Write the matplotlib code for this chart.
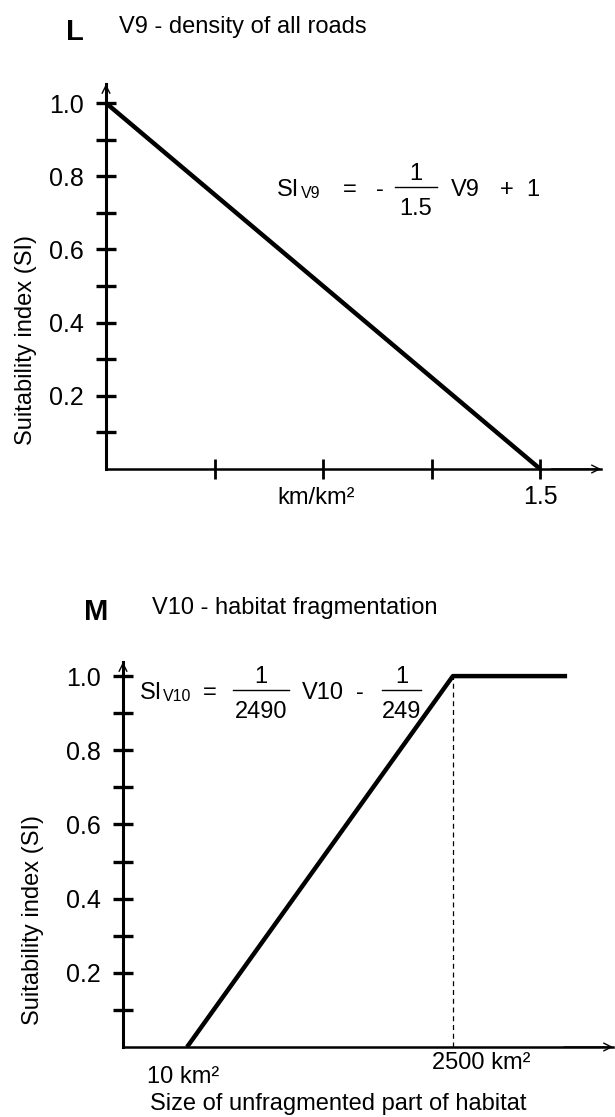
import numpy as np
import matplotlib.pyplot as plt
from matplotlib.lines import Line2D

plt.rcParams['font.family'] = ['Liberation Sans', 'DejaVu Sans']

# panel L: V9 - density of all roads
road_density = [0.0, 1.5]
si_roads = [1.0, 0.0]
road_xticks = [0.375, 0.75, 1.125, 1.5]
road_xticklabels = ['', '', '', '1.5']

# panel M: V10 - habitat fragmentation
habitat_km2 = [10, 2500, 3570]
si_habitat = [0.0, 1.0, 1.0]
habitat_break = 2500

si_ticks = [0.1, 0.2, 0.3, 0.4, 0.5, 0.6, 0.7, 0.8, 0.9, 1.0]
si_ticklabels = ['', '0.2', '', '0.4', '', '0.6', '', '0.8', '', '1.0']

FS = 17
SUB = 11.5
W, H = 615, 1117

fig = plt.figure(figsize=(W / 100, H / 100), dpi=100)


def px(x, y):
    # pixel position -> figure fraction
    return x / W, 1 - y / H


def txt(x, y, s, size=FS, ha='left', va='baseline', **kw):
    return fig.text(*px(x, y), s, fontsize=size, ha=ha, va=va, **kw)


def frac(x0, x1, ybar, num, den, ynum, yden):
    xc = (x0 + x1) / 2
    fx0, fy = px(x0, ybar)
    fx1, _ = px(x1, ybar)
    fig.add_artist(Line2D([fx0, fx1], [fy, fy], transform=fig.transFigure,
                          color='black', lw=1))
    txt(xc, ynum, num, ha='center')
    txt(xc, yden, den, ha='center')


def setup_axes(ax):
    for s in ['top', 'right']:
        ax.spines[s].set_visible(False)
    ax.spines['left'].set_linewidth(2.2)
    ax.spines['bottom'].set_linewidth(1.8)
    ax.set_yticks(si_ticks)
    ax.set_yticklabels(si_ticklabels)
    ax.tick_params(axis='y', direction='inout', length=14, width=2.4,
                   labelsize=18, pad=9)
    # open arrow heads at the axis ends
    ax.annotate('', xy=(0, 1), xytext=(0, 0.9), xycoords='axes fraction',
                arrowprops=dict(arrowstyle='->', lw=1, mutation_scale=14,
                                shrinkA=0, shrinkB=0))
    ax.annotate('', xy=(1, 0), xytext=(0.9, 0), xycoords='axes fraction',
                arrowprops=dict(arrowstyle='->', lw=1, mutation_scale=14,
                                shrinkA=0, shrinkB=0))


# ---- L ----
x0, y0 = px(106, 469)
x1, y1 = px(601, 84)
axL = fig.add_axes([x0, y0, x1 - x0, y1 - y0])
axL.plot(road_density, si_roads, color='black', lw=3.2, solid_capstyle='butt')
axL.set_xlim(0, 1.71)
axL.set_ylim(0, 1.052)
setup_axes(axL)
axL.set_xticks(road_xticks)
axL.set_xticklabels(road_xticklabels)
axL.tick_params(axis='x', direction='inout', length=15, width=2,
                labelsize=18, pad=4)
txt(75, 32, 'L', size=21, ha='center', va='center', fontweight='bold')
txt(119, 27, 'V9 - density of all roads', va='center')
txt(26, 340, 'Suitability index (SI)', ha='center', va='center', rotation=90)
txt(316, 498, 'km/km\u00b2', ha='center', va='center')

# equation L
txt(277, 196, 'SI')
txt(301, 198, 'V9', size=SUB)
txt(350, 196, '=', ha='center')
txt(380, 196, '-', ha='center')
frac(395, 437, 187, '1', '1.5', 180, 215)
txt(451, 196, 'V9')
txt(507, 196, '+', ha='center')
txt(533, 196, '1', ha='center')

# ---- M ----
x0, y0 = px(123, 1047)
x1, y1 = px(613, 662)
axM = fig.add_axes([x0, y0, x1 - x0, y1 - y0])
axM.plot(habitat_km2, si_habitat, color='black', lw=3.2, solid_capstyle='butt')
axM.plot([habitat_break, habitat_break], [0, 1], color='black', lw=0.9,
         ls=(0, (4, 3)))
axM.set_xlim(-590, 4000)
axM.set_ylim(0, 1.038)
setup_axes(axM)
axM.set_xticks([])
axM.annotate('10 km\u00b2', xy=(habitat_km2[0], 0), xycoords='data',
             xytext=(-4, -30), textcoords='offset pixels',
             fontsize=FS, ha='center', va='center')
axM.annotate('2500 km\u00b2', xy=(habitat_break, 0), xycoords='data',
             xytext=(28, -16), textcoords='offset pixels',
             fontsize=FS, ha='center', va='center')
txt(96, 612, 'M', size=21, ha='center', va='center', fontweight='bold')
txt(152, 608, 'V10 - habitat fragmentation', va='center')
txt(33, 920, 'Suitability index (SI)', ha='center', va='center', rotation=90)
txt(338, 1104, 'Size of unfragmented part of habitat', ha='center', va='center')

# equation M
txt(140, 699, 'SI')
txt(163, 701, 'V10', size=SUB)
txt(210, 699, '=', ha='center')
frac(233, 289, 690, '1', '2490', 683, 718)
txt(302, 699, 'V10')
txt(360, 699, '-', ha='center')
frac(382, 421, 690, '1', '249', 683, 718)

fig.savefig('out.png', dpi=100)
